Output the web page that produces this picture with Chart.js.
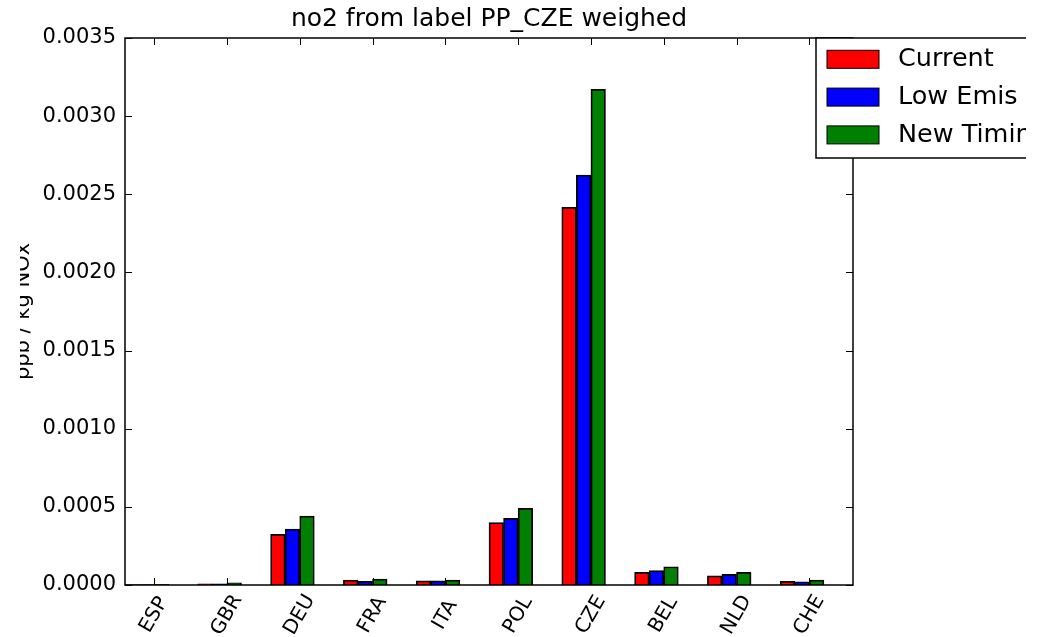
<!DOCTYPE html>
<html>
<head>
<meta charset="utf-8">
<script src="https://cdn.jsdelivr.net/npm/chart.js@4.4.1/dist/chart.umd.min.js"></script>
<style>
  html, body { margin: 0; padding: 0; background: #fff; overflow: hidden; }
  #wrap { width: 1047px; height: 637px; }
</style>
</head>
<body>
<div id="wrap"><canvas id="no2Chart" width="1047" height="637"></canvas></div>
<script>
// countries along the x axis
const countries = ['ESP', 'GBR', 'DEU', 'FRA', 'ITA', 'POL', 'CZE', 'BEL', 'NLD', 'CHE'];
// series names (the last one is cut off in the figure)
const seriesNames = ['Current', 'Low Emis', 'New Timing'];
// values, ppb / kg NOx
const currentVals   = [0.000003, 0.000008, 0.000324, 0.000032, 0.000026, 0.000399, 0.002417, 0.000081, 0.000058, 0.000024];
const lowEmisVals   = [0.000003, 0.000008, 0.000358, 0.000024, 0.000026, 0.000427, 0.002623, 0.000092, 0.000068, 0.000021];
const newTimingVals = [0.000004, 0.000014, 0.000441, 0.000038, 0.000032, 0.000491, 0.003172, 0.000117, 0.000081, 0.000032];
// y tick step
const yStep = 0.0005;
const yMax = 0.0035;

const seriesVals = [currentVals, lowEmisVals, newTimingVals];
const seriesColors = ['#ff0000', '#0000ff', '#008000'];

const FONT = '"DejaVu Sans", Verdana, sans-serif';

// matplotlib style: bar k of group i starts at i + 0.2k, width 0.2
function toPoints(vals, k) {
  return vals.map((v, i) => ({ x: i + 0.2 * k + 0.1, y: v }));
}

// Vẽ khung, vạch chia, nhãn trục x, nhãn trục y và chú giải
const decorPlugin = {
  id: 'decor',
  afterDatasetsDraw(chart) {
    const { ctx, chartArea: a, scales: { x, y } } = chart;
    ctx.save();

    const line = (x1, y1, x2, y2) => {
      ctx.beginPath();
      ctx.moveTo(x1, y1);
      ctx.lineTo(x2, y2);
      ctx.stroke();
    };

    // tick marks, inside on all four sides
    ctx.strokeStyle = '#000';
    ctx.lineWidth = 1;
    y.ticks.forEach(t => {
      const py = Math.round(y.getPixelForValue(t.value)) + 0.5;
      line(a.left, py, a.left + 7, py);
      line(a.right, py, a.right - 7, py);
    });
    x.ticks.forEach(t => {
      const px = Math.round(x.getPixelForValue(t.value)) + 0.5;
      line(px, a.bottom, px, a.bottom - 7);
      line(px, a.top, px, a.top + 7);
    });

    // frame
    ctx.lineWidth = 1.5;
    ctx.strokeRect(a.left, a.top, a.right - a.left, a.bottom - a.top);

    // rotated x labels, centred under ticks
    ctx.fillStyle = '#000';
    ctx.font = '20px ' + FONT;
    ctx.textAlign = 'center';
    ctx.textBaseline = 'middle';
    x.ticks.forEach((t, i) => {
      const px = x.getPixelForValue(t.value);
      ctx.save();
      ctx.translate(px, a.bottom + 30);
      ctx.rotate(-Math.PI / 3);
      ctx.fillText(countries[i], 0, 0);
      ctx.restore();
    });

    // y axis title, clipped at the left like the source figure
    ctx.save();
    ctx.beginPath();
    ctx.rect(20, 0, 200, chart.height);
    ctx.clip();
    ctx.translate(28.5, (a.top + a.bottom) / 2);
    ctx.rotate(-Math.PI / 2);
    ctx.font = '21px ' + FONT;
    ctx.textAlign = 'center';
    ctx.textBaseline = 'alphabetic';
    ctx.fillText('ppb / kg NOx', 0, 0);
    ctx.restore();

    // legend box, running off the right edge
    ctx.save();
    ctx.beginPath();
    ctx.rect(0, 0, 1026, chart.height);
    ctx.clip();
    const lx = 816, ly = a.top, lw = 260, lh = 120;
    ctx.fillStyle = '#fff';
    ctx.fillRect(lx, ly, lw, lh);
    ctx.strokeStyle = '#000';
    ctx.lineWidth = 1.5;
    ctx.strokeRect(lx, ly, lw, lh);
    ctx.font = '25.5px ' + FONT;
    ctx.textAlign = 'left';
    ctx.textBaseline = 'middle';
    seriesNames.forEach((name, k) => {
      const cy = ly + 21.3 + k * 37.8;
      ctx.fillStyle = seriesColors[k];
      ctx.fillRect(827, cy - 9, 52, 18);
      ctx.lineWidth = 1;
      ctx.strokeRect(827, cy - 9, 52, 18);
      ctx.fillStyle = '#000';
      ctx.fillText(name, 898, cy);
    });
    ctx.restore();

    ctx.restore();
  }
};

const datasets = seriesNames.map((name, k) => ({
  label: name,
  data: toPoints(seriesVals[k], k),
  backgroundColor: seriesColors[k],
  borderColor: '#000',
  borderWidth: 1.75,
  grouped: false,
  categoryPercentage: 1,
  barPercentage: 1
}));

new Chart(document.getElementById('no2Chart').getContext('2d'), {
  type: 'bar',
  data: { datasets: datasets },
  plugins: [decorPlugin],
  options: {
    responsive: false,
    animation: false,
    layout: { padding: { left: 0, right: 194, top: 0, bottom: 0 } },
    plugins: {
      legend: { display: false },
      tooltip: { enabled: false },
      title: {
        display: true,
        text: 'no2 from label PP_CZE weighed',
        color: '#000',
        fullSize: false,
        font: { family: FONT, size: 25, weight: 'normal' },
        padding: { top: 4, bottom: 4 }
      }
    },
    scales: {
      x: {
        type: 'linear',
        offset: false,
        min: 0,
        max: countries.length,
        grid: { display: false, drawTicks: false },
        border: { display: false },
        ticks: { display: false },
        afterBuildTicks(scale) {
          scale.ticks = countries.map((c, i) => ({ value: i + 0.4 }));
        },
        afterFit(scale) { scale.height = 52; }
      },
      y: {
        min: 0,
        max: yMax,
        grid: { display: false, drawTicks: false },
        border: { display: false },
        ticks: {
          stepSize: yStep,
          color: '#000',
          padding: 9,
          font: { family: FONT, size: 21 },
          callback: v => v.toFixed(4)
        },
        afterFit(scale) { scale.width = 125; }
      }
    }
  }
});
</script>
</body>
</html>
